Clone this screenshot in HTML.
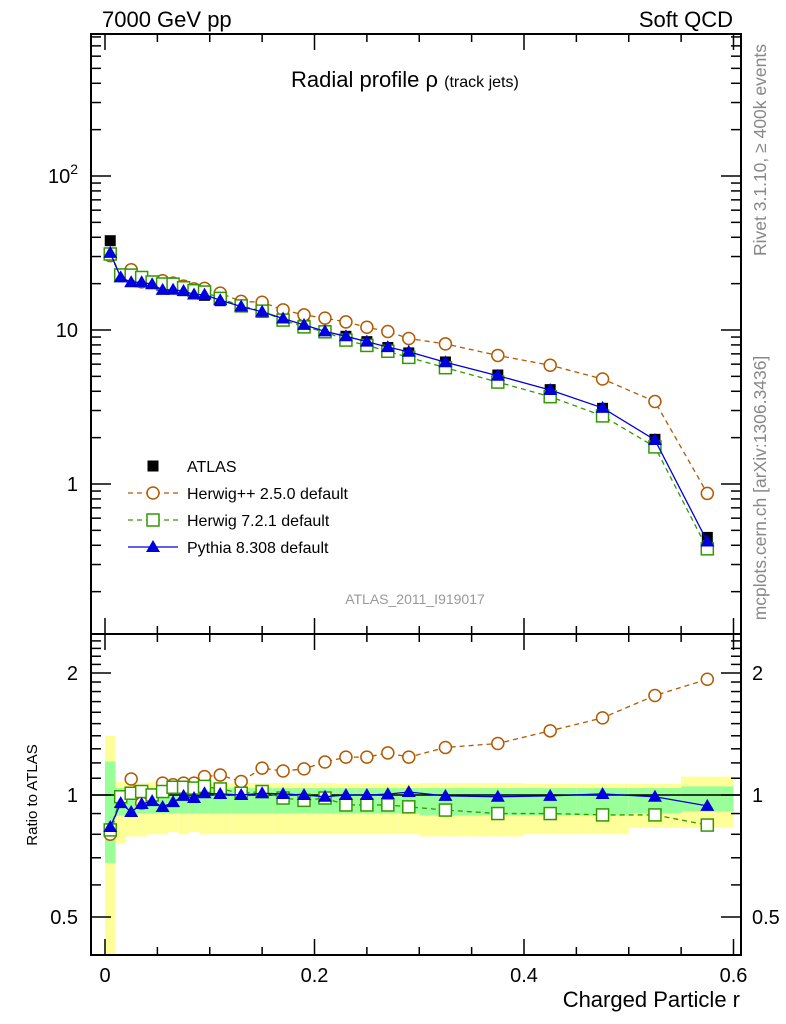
<!DOCTYPE html>
<html><head><meta charset="utf-8"><style>
body{margin:0;background:#fff;}
svg{display:block;font-family:"Liberation Sans",sans-serif;}
</style></head><body>
<svg id="chart" width="786" height="1024" xmlns="http://www.w3.org/2000/svg"></svg>
<script>
const xCenters=[0.005,0.015,0.025,0.035,0.045,0.055,0.065,0.075,0.085,0.095,0.11,0.13,0.15,0.17,0.19,0.21,0.23,0.25,0.27,0.29,0.325,0.375,0.425,0.475,0.525,0.575];
const binEdges=[0,0.01,0.02,0.03,0.04,0.05,0.06,0.07,0.08,0.09,0.1,0.12,0.14,0.16,0.18,0.2,0.22,0.24,0.26,0.28,0.3,0.35,0.4,0.45,0.5,0.55,0.6];
const atlasVals=[38,23,22.5,21.5,20.5,19.5,19,18,17.3,16.8,15.5,14.2,13,11.8,10.8,9.9,9.1,8.4,7.7,7.1,6.2,5.1,4.1,3.1,1.95,0.45];
const herwigppRatio=[0.80,0.98,1.095,0.955,0.995,1.07,1.06,1.07,1.07,1.11,1.12,1.08,1.165,1.146,1.16,1.206,1.24,1.24,1.27,1.24,1.31,1.34,1.44,1.55,1.76,1.93];
const herwig7Ratio=[0.82,0.99,1.01,1.02,1.0,1.02,1.045,1.045,1.04,1.05,1.035,1.01,1.02,0.983,0.97,0.983,0.945,0.945,0.945,0.935,0.918,0.9,0.9,0.893,0.893,0.843];
const pythiaRatio=[0.834,0.955,0.908,0.95,0.966,0.934,0.96,0.995,0.983,1.01,1.006,1.0,1.01,1.006,1.0,0.99,1.0,1.0,1.005,1.017,0.995,0.99,0.995,1.006,0.99,0.94];
const yellowLo=[0.3,0.76,0.79,0.79,0.8,0.8,0.81,0.8,0.81,0.8,0.8,0.8,0.8,0.8,0.8,0.8,0.8,0.8,0.8,0.8,0.79,0.79,0.8,0.8,0.83,0.83];
const yellowHi=[1.40,1.076,1.075,1.07,1.075,1.07,1.075,1.07,1.07,1.07,1.07,1.07,1.07,1.07,1.07,1.07,1.065,1.065,1.065,1.065,1.07,1.07,1.065,1.065,1.065,1.11];
const greenLo=[0.68,0.89,0.89,0.9,0.9,0.9,0.9,0.9,0.9,0.9,0.9,0.9,0.9,0.9,0.9,0.9,0.9,0.9,0.9,0.9,0.89,0.89,0.89,0.89,0.9,0.91];
const greenHi=[1.21,1.04,1.04,1.04,1.04,1.04,1.04,1.04,1.04,1.04,1.04,1.04,1.04,1.04,1.04,1.04,1.04,1.04,1.04,1.04,1.04,1.04,1.04,1.04,1.04,1.05];
const xTicks=[0,0.2,0.4,0.6];
const xTickLabels=["0","0.2","0.4","0.6"];

const svg=document.getElementById('chart');
const NS='http://www.w3.org/2000/svg';
const L=91,R=741,T=34,MID=634,B=955;
const X=v=>105+v*1047.5;
const Y=v=>484-154*Math.log10(v);
const YR=r=>795-122*Math.log2(r);
function el(tag,attrs,parent){const e=document.createElementNS(NS,tag);for(const k in attrs)e.setAttribute(k,attrs[k]);(parent||svg).appendChild(e);return e;}
function txt(s,attrs,parent){const e=el('text',attrs,parent);e.textContent=s;return e;}

const bands=el('g',{});


for(let i=0;i<xCenters.length;i++){
  const x0=X(binEdges[i]),x1=X(binEdges[i+1]);
  const yl=Math.min(B,YR(yellowLo[i])),yh=YR(yellowHi[i]);
  const y1=el('rect',{x:x0,y:yh,width:x1-x0,height:yl-yh,fill:'#ffff99'},bands);
  
  
  const gl=YR(greenLo[i]),gh=YR(greenHi[i]);
  const g1=el('rect',{x:x0,y:gh,width:x1-x0,height:gl-gh,fill:'#99ff99'},bands);
  
  
}
el('line',{x1:L,x2:R,y1:YR(1),y2:YR(1),stroke:'#000','stroke-width':1.5});

const fr=el('g',{fill:'none',stroke:'#000','stroke-width':2});


el('rect',{x:L,y:T,width:R-L,height:MID-T},fr);
el('rect',{x:L,y:MID,width:R-L,height:B-MID},fr);

const ticks=el('g',{stroke:'#000','stroke-width':1.5});
for(let v=0;v<=0.6001;v+=0.05){
  const major=Math.abs(v/0.2-Math.round(v/0.2))<1e-6;
  const len=major?16:8;const x=X(v);
  el('line',{x1:x,x2:x,y1:MID,y2:MID-len},ticks);
  el('line',{x1:x,x2:x,y1:T,y2:T+len},ticks);
  el('line',{x1:x,x2:x,y1:B,y2:B-len},ticks);
  el('line',{x1:x,x2:x,y1:MID,y2:MID+len},ticks);
}
xTicks.forEach((v,i)=>{const t=txt(xTickLabels[i],{x:X(v),y:982,'font-size':20,'text-anchor':'middle'});

});

for(let d=-1;d<=2;d++){for(let m=1;m<=9;m++){const v=m*Math.pow(10,d);const y=Y(v);if(y<T||y>MID)continue;
 const len=m===1?20:10;
 el('line',{x1:L,x2:L+len,y1:y,y2:y},ticks);el('line',{x1:R,x2:R-len,y1:y,y2:y},ticks);}}
const ylab1=txt('1',{x:78,y:Y(1)+7,'font-size':20,'text-anchor':'end'});

const ylab10=txt('10',{x:78,y:Y(10)+7,'font-size':20,'text-anchor':'end'});

const ylab100=el('text',{x:78,y:Y(100)+7,'font-size':20,'text-anchor':'end'});
ylab100.innerHTML='10<tspan dy="-9" font-size="14">2</tspan>';


const rt=[0.5,0.6,0.7,0.8,0.9,1,1.1,1.2,1.3,1.4,1.5,1.6,1.7,1.8,1.9,2,2.1,2.2,2.3,2.4];
rt.forEach(r=>{const y=YR(r);const major=(r===0.5||r===1||r===2);const len=major?20:10;
 el('line',{x1:L,x2:L+len,y1:y,y2:y},ticks);el('line',{x1:R,x2:R-len,y1:y,y2:y},ticks);});
[[0.5,'0.5'],[1,'1'],[2,'2']].forEach(([r,s])=>{
 const a=txt(s,{x:78,y:YR(r)+7,'font-size':20,'text-anchor':'end'});
 const b=txt(s,{x:752,y:YR(r)+7,'font-size':20});});

const herwigppVals=atlasVals.map((v,i)=>v*herwigppRatio[i]);
const herwig7Vals=atlasVals.map((v,i)=>v*herwig7Ratio[i]);
const pythiaVals=atlasVals.map((v,i)=>v*pythiaRatio[i]);
function marker(type,x,y,color,g){
 if(type==='circle')return el('circle',{cx:x,cy:y,r:6,fill:'#fff',stroke:color,'stroke-width':1.5},g);
 if(type==='square')return el('rect',{x:x-6,y:y-6,width:12,height:12,fill:'#fff',stroke:color,'stroke-width':1.5},g);
 if(type==='tri')return el('polygon',{points:`${x},${y-7} ${x-7},${y+5} ${x+7},${y+5}`,fill:color},g);
 if(type==='fsq')return el('rect',{x:x-5.5,y:y-5.5,width:11,height:11,fill:color},g);
}
function series(name,vals,yf,color,type,dash){
 const g=el('g',{});
 
 
 if(type!=='fsq'){
  const pts=vals.map((v,i)=>X(xCenters[i])+','+yf(v)).join(' ');
  el('polyline',{points:pts,fill:'none',stroke:color,'stroke-width':1.3,'stroke-dasharray':dash||''},g);
 }
 vals.forEach((v,i)=>{const m=marker(type,X(xCenters[i]),yf(v),color,g);
  
  });
}
series('atlas-data',atlasVals,Y,'#000','fsq');
series('herwigpp-main',herwigppVals,Y,'#b35900','circle','5,4');
series('herwig7-main',herwig7Vals,Y,'#339900','square','5,4');
series('pythia-main',pythiaVals,Y,'#0000dd','tri');
series('herwigpp-ratio',herwigppRatio,YR,'#b35900','circle','5,4');
series('herwig7-ratio',herwig7Ratio,YR,'#339900','square','5,4');
series('pythia-ratio',pythiaRatio,YR,'#0000dd','tri');

const lg=el('g',{});


const leg=[['ATLAS','#000','fsq',''],['Herwig++ 2.5.0 default','#b35900','circle','5,4'],['Herwig 7.2.1 default','#339900','square','5,4'],['Pythia 8.308 default','#0000dd','tri','']];
leg.forEach((e,i)=>{const y=466+i*27;
 if(i>0)el('line',{x1:128,x2:178,y1:y,y2:y,stroke:e[1],'stroke-width':1.3,'stroke-dasharray':e[3]},lg);
 marker(e[2],153,y,e[1],lg);
 const t=txt(e[0],{x:187,y:y+6,'font-size':16},lg);
 
 });

function label(s,attrs,name){const t=txt(s,attrs);return t;}
label('7000 GeV pp',{x:102,y:27,'font-size':22},'energy-label');
label('Soft QCD',{x:733,y:27,'font-size':22,'text-anchor':'end'},'category-label');
const ti=el('text',{x:291,y:87,'font-size':22});
ti.innerHTML='Radial profile ρ <tspan font-size="16">(track jets)</tspan>';

label('ATLAS_2011_I919017',{x:415,y:604,'font-size':14,fill:'#999','text-anchor':'middle'},'analysis-id');
label('Charged Particle r',{x:740,y:1007,'font-size':22,'text-anchor':'end'},'x-axis-title');
label('Ratio to ATLAS',{x:37,y:795,'font-size':15,'text-anchor':'middle',transform:'rotate(-90 37 795)'},'y-axis-title-ratio');
label('Rivet 3.1.10, ≥ 400k events',{x:766,y:150,'font-size':17.5,fill:'#888','text-anchor':'middle',transform:'rotate(-90 766 150)'},'rivet-version');
label('mcplots.cern.ch [arXiv:1306.3436]',{x:766,y:488,'font-size':17.5,fill:'#888','text-anchor':'middle',transform:'rotate(-90 766 488)'},'mcplots-credit');
</script>
</body></html>
